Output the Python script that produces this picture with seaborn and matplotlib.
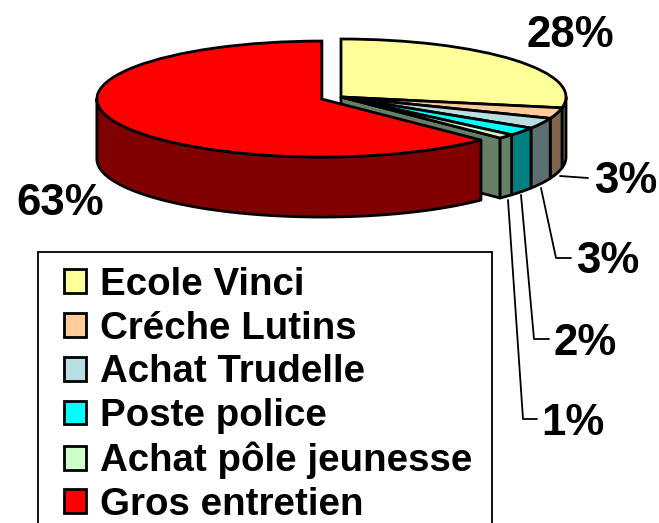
import numpy as np
import matplotlib
matplotlib.use("Agg")
import matplotlib.pyplot as plt
from matplotlib.colors import to_rgb
from matplotlib.patches import Patch, Rectangle
import seaborn as sns

names = ["Ecole Vinci", "Créche Lutins", "Achat Trudelle", "Poste police",
         "Achat pôle jeunesse", "Gros entretien"]
values = [28, 3, 3, 2.3, 1.2, 62.5]
pct_labels = ["28%", "3%", "3%", "2%", "1%", "63%"]
colors = ["#FFFF99", "#FFCC99", "#B8DDE3", "#00FFFF", "#CCFFCC", "#FF0000"]
explode = [0, 0, 0, 0, 0, 0.092]

W, H = 659, 523
CX, CY = 341, 97  # pie centre, pixels
RX, RY = 225, 58  # ellipse radii, pixels
DEPTH = 60 / RY
LW = 2.0

sns.set_theme(style="white")
plt.rcParams["font.family"] = ["Liberation Sans", "DejaVu Sans"]


def px(x, y):
    return (x - CX) / RX, (CY - y) / RY


fig, ax = plt.subplots(figsize=(W / 100, H / 100), dpi=100)
fig.subplots_adjust(0, 0, 1, 1)

wedges, _ = ax.pie(values, colors=colors, explode=explode, startangle=90,
                   counterclock=False, radius=1,
                   wedgeprops=dict(edgecolor="black", linewidth=LW, zorder=5))
ax.set_aspect("auto")
ax.set_xlim(px(0, 0)[0], px(W, 0)[0])
ax.set_ylim(px(0, H)[1], px(0, 0)[1])
ax.axis("off")


def dark(c):
    return tuple(np.array(to_rgb(c)) * 0.5)


# cut face of the last small slice, seen in the gap left by the red one
w = wedges[4]
a = np.deg2rad(w.theta1)
cx, cy = w.center
xs = [cx, cx + np.cos(a), cx + np.cos(a), cx]
ys = [cy, cy + np.sin(a), cy + np.sin(a) - DEPTH, cy - DEPTH]
ax.fill(xs, ys, facecolor=dark(colors[4]), edgecolor="black", linewidth=LW,
        joinstyle="round", zorder=1)

# rim of each slice, only the front part of the ellipse
for i, w in enumerate(wedges):
    lo, hi = max(w.theta1, -180), min(w.theta2, 0)
    if lo >= hi:
        continue
    t = np.deg2rad(np.linspace(lo, hi, 80))
    cx, cy = w.center
    xs = np.r_[cx + np.cos(t), cx + np.cos(t[::-1])]
    ys = np.r_[cy + np.sin(t), cy + np.sin(t[::-1]) - DEPTH]
    ax.fill(xs, ys, facecolor=dark(colors[i]), edgecolor="black", linewidth=LW,
            joinstyle="round", zorder=3 if i == 5 else 2)

# leader lines
leaders = [
    [(560, 176), (588, 178)],
    [(541, 188), (556, 258), (571, 258)],
    [(521, 195), (534, 339), (549, 339)],
    [(508, 200), (523, 419), (537, 419)],
]
for pts in leaders:
    lx, ly = zip(*[px(*p) for p in pts])
    ax.plot(lx, ly, color="black", linewidth=1.3, zorder=0)

label_pos = [(570, 31), (626, 177), (608, 257), (585, 339), (573, 419), (60, 199)]
for txt, p in zip(pct_labels, label_pos):
    ax.text(*px(*p), txt, fontsize=31.5, fontweight="bold", color="black",
            ha="center", va="center_baseline", zorder=6)

# legend box runs off the bottom of the picture
box = Rectangle((38 / W, -10 / H), (492 - 38) / W, 1 - 252 / H + 10 / H,
                transform=fig.transFigure, facecolor="white", edgecolor="black",
                linewidth=1.3, zorder=4, clip_on=False)
ax.add_patch(box)

handles = [Patch(facecolor=c, edgecolor="black", linewidth=LW) for c in colors]
leg = ax.legend(handles, names, loc="upper left", frameon=False,
                bbox_to_anchor=(64 / W, 1 - 267 / H), bbox_transform=fig.transFigure,
                borderaxespad=0, borderpad=0, prop=dict(size=27.7, weight="bold"),
                handlelength=0.58, handleheight=0.58, handletextpad=0.36,
                labelspacing=0.2, labelcolor="black")
leg.set_zorder(5)

fig.savefig("out.png", dpi=100)
